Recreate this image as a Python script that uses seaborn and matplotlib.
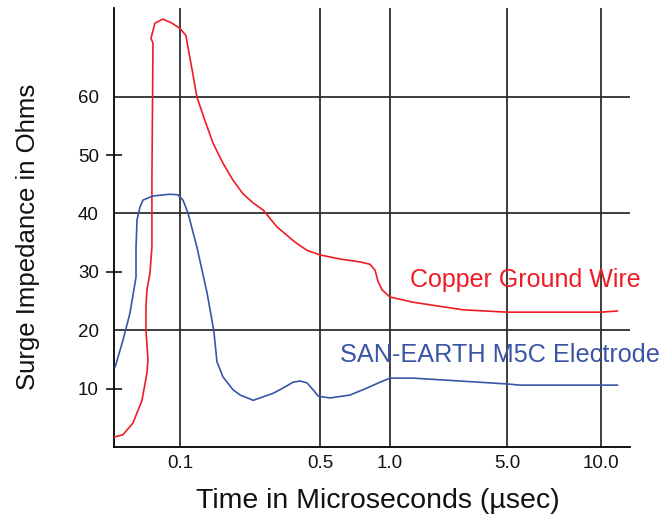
import numpy as np
import pandas as pd
import matplotlib
matplotlib.use("Agg")
import matplotlib.pyplot as plt
import seaborn as sns
from matplotlib.ticker import NullLocator

# ---- data (time in microseconds, impedance in ohms) ----
copper_t = [0.0468, 0.0519, 0.0582, 0.0646, 0.0684, 0.0692, 0.0676, 0.0676, 0.0684,
            0.0708, 0.0724, 0.0724, 0.0733,
            0.0716, 0.075, 0.0822, 0.0912, 0.1, 0.107, 0.1096, 0.115, 0.1216, 0.133,
            0.146, 0.164, 0.184, 0.206, 0.232, 0.26, 0.305, 0.375, 0.43, 0.5, 0.61,
            0.743, 0.82, 0.862, 0.889, 0.925, 1.0, 1.37, 2.73, 5.0, 10.0, 11.3]
copper_z = [1.7, 2.1, 4.1, 8.0, 12.7, 14.9, 20.0, 24.0, 26.9,
            29.8, 34.2, 45.7, 69.2,
            70.0, 72.6, 73.3, 72.6, 71.7, 70.5, 68.5, 64.6, 59.9, 56.0,
            52.1, 48.6, 45.7, 43.4, 41.8, 40.6, 37.7, 35.1, 33.7, 32.9, 32.2,
            31.7, 31.3, 30.3, 28.3, 26.9, 25.7, 24.8, 23.5, 23.1, 23.1, 23.3]

sanearth_t = [0.0474, 0.0519, 0.0562, 0.0603, 0.0603, 0.061, 0.0631, 0.0653, 0.0733,
              0.0891, 0.0977, 0.1035, 0.1096, 0.1216, 0.1365, 0.1445, 0.148, 0.153,
              0.164, 0.184, 0.2, 0.232, 0.292, 0.327, 0.367, 0.398, 0.43, 0.462,
              0.49, 0.552, 0.673, 0.796, 0.906, 1.0, 1.37, 2.62, 5.0, 5.5, 11.3]
sanearth_z = [13.7, 18.3, 22.9, 29.1, 34.2, 38.9, 41.1, 42.3, 43.0,
              43.3, 43.2, 42.3, 40.1, 34.2, 26.4, 21.7, 19.5, 14.6,
              12.0, 9.8, 8.9, 8.0, 9.2, 10.1, 11.1, 11.3, 11.0, 9.8,
              8.7, 8.4, 8.9, 10.1, 11.1, 11.8, 11.8, 11.3, 10.8, 10.6, 10.6]

x_ticks = [0.1, 0.5, 1.0, 5.0, 10.0]
x_tick_labels = ["0.1", "0.5", "1.0", "5.0", "10.0"]
y_ticks_marked = [10, 30, 50]     # labelled, with a short tick mark
y_ticks_grid = [20, 40, 60]       # labelled, with a full grid line

copper_label = "Copper Ground Wire"
sanearth_label = "SAN-EARTH M5C Electrode"

# ---- piecewise logarithmic axis used in the original chart ----
_LK = np.log10([0.01, 0.1, 0.5, 1.0, 5.0, 10.0, 100.0])
_PK = np.array([-20.0, 180.0, 320.0, 390.0, 507.0, 601.0, 913.0])


def fwd(t):
    t = np.maximum(np.asarray(t, dtype=float), 1e-9)
    return np.interp(np.log10(t), _LK, _PK)


def inv(p):
    return 10 ** np.interp(np.asarray(p, dtype=float), _PK, _LK)


sns.set_theme(style="white")
plt.rcParams["font.family"] = ["Liberation Sans", "DejaVu Sans"]

fig = plt.figure(figsize=(6.71, 5.15), dpi=100)
ax = fig.add_axes([114 / 671, 1 - 447 / 515, 516 / 671, 439 / 515])
ax.set_xscale("function", functions=(fwd, inv))

df_c = pd.DataFrame({"t": copper_t, "z": copper_z})
df_s = pd.DataFrame({"t": sanearth_t, "z": sanearth_z})

grid_col = "#2e2e2e"
txt_col = "#111111"
ax.set_xlim(0.0468, 12.38)
ax.set_ylim(0, 75.2)
ax.set_xticks(x_ticks)
ax.set_xticklabels(x_tick_labels)
ax.xaxis.set_minor_locator(NullLocator())
ax.set_yticks(y_ticks_marked)
ax.set_yticklabels([str(v) for v in y_ticks_marked])
ax.set_yticks(y_ticks_grid, minor=True)
ax.set_yticklabels([str(v) for v in y_ticks_grid], minor=True)
ax.tick_params(axis="x", length=0, pad=6, labelsize=13.5, labelcolor=txt_col)
ax.tick_params(axis="y", which="major", direction="inout", length=12, width=1.1,
               color="black", left=True, pad=5, labelsize=13.5, labelcolor=txt_col)
ax.tick_params(axis="y", which="minor", length=0, left=True, pad=11,
               labelsize=13.5, labelcolor=txt_col)
ax.grid(False)
for xv in x_ticks:
    ax.axvline(xv, color=grid_col, lw=1.3, zorder=1)
for yv in y_ticks_grid:
    ax.axhline(yv, color=grid_col, lw=1.3, zorder=1)

for s in ["top", "right"]:
    ax.spines[s].set_visible(False)
for s in ["left", "bottom"]:
    ax.spines[s].set_color("black")
    ax.spines[s].set_linewidth(1.3)

sns.lineplot(data=df_c, x="t", y="z", sort=False, estimator=None, color="#ee1d25",
             lw=1.2, ax=ax, zorder=3)
sns.lineplot(data=df_s, x="t", y="z", sort=False, estimator=None, color="#3a55a5",
             lw=1.2, ax=ax, zorder=3)

ax.set_xlabel("")
ax.set_ylabel("")
ax.text(1.32, 28.6, copper_label, color="#ee1d25", fontsize=18, ha="left", va="center")
ax.text(0.61, 15.8, sanearth_label, color="#3a55a5", fontsize=18.2, ha="left", va="center")

fig.text(28 / 671, 1 - 237 / 515, "Surge Impedance in Ohms", rotation=90,
         ha="center", va="center", fontsize=18.5, color=txt_col)
fig.text(378 / 671, 1 - 501 / 515, "Time in Microseconds (\u00b5sec)",
         ha="center", va="center", fontsize=20.5, color=txt_col)

fig.savefig("out.png", dpi=100, facecolor="white")
